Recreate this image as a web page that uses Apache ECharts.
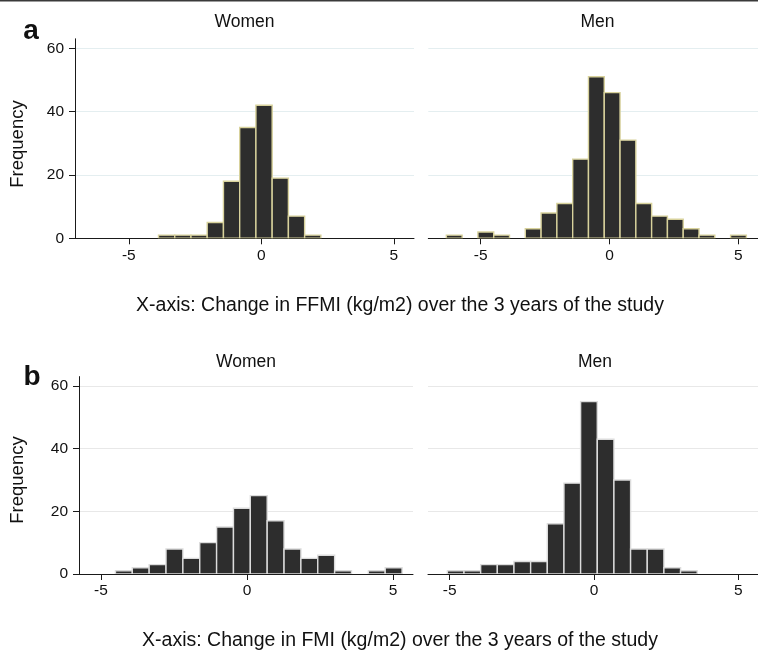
<!DOCTYPE html>
<html>
<head>
<meta charset="utf-8">
<script src="https://cdn.jsdelivr.net/npm/echarts@6/dist/echarts.min.js"></script>
<style>
html,body{margin:0;padding:0;background:#fff;}
#chart{width:758px;height:651px;}
</style>
</head>
<body>
<div id="chart"></div>
<script>
// ---- Data ----
const panelTitles = ["Women", "Men"];
const yTicks = [0, 20, 40, 60];
const xTicks = [-5, 0, 5];

// Panel a: change in FFMI, histogram bins
const ffmiBinStart = -6.33;
const ffmiBinWidth = 0.6126;
const ffmiWomen = [0, 0, 0, 0, 1, 1, 1, 5, 18, 35, 42, 19, 7, 1];
const ffmiMen = [1, 0, 2, 1, 0, 3, 8, 11, 25, 51, 46, 31, 11, 7, 6, 3, 1, 0, 1];

// Panel b: change in FMI, histogram bins
const fmiBinStart = -5.08;
const fmiBinWidth = 0.577;
const fmiWomen = [0, 1, 2, 3, 8, 5, 10, 15, 21, 25, 17, 8, 5, 6, 1, 0, 1, 2];
const fmiMen = [1, 1, 3, 3, 4, 4, 16, 29, 55, 43, 30, 8, 8, 2, 1];

const titleA = "X-axis: Change in FFMI (kg/m2) over the 3 years of the study";
const titleB = "X-axis: Change in FMI (kg/m2) over the 3 years of the study";

// ---- Build ----
function toBins(start, width, counts) {
  const out = [];
  counts.forEach((c, i) => {
    if (c > 0) out.push([start + i * width, start + (i + 1) * width, c]);
  });
  return out;
}

const FONT = '"Liberation Sans", Arial, Helvetica, sans-serif';
const panels = [
  { left: 75, top: 38.8, width: 339, height: 199.5, xMin: -7.03, xMax: 5.76, data: toBins(ffmiBinStart, ffmiBinWidth, ffmiWomen), axis: true, edge: '#d8d29c', grid: '#e4eef0' },
  { left: 428.3, top: 38.8, width: 339, height: 199.5, xMin: -7.03, xMax: 5.76, data: toBins(ffmiBinStart, ffmiBinWidth, ffmiMen), axis: false, edge: '#d8d29c', grid: '#e4eef0' },
  { left: 79, top: 376.6, width: 334, height: 197.4, xMin: -5.75, xMax: 5.68, data: toBins(fmiBinStart, fmiBinWidth, fmiWomen), axis: true, edge: '#dcdcdc', grid: '#e8e8e8' },
  { left: 428, top: 376.6, width: 334, height: 197.4, xMin: -5.75, xMax: 5.68, data: toBins(fmiBinStart, fmiBinWidth, fmiMen), axis: false, edge: '#dcdcdc', grid: '#e8e8e8' }
];

const grid = [], xAxis = [], yAxis = [], series = [];
panels.forEach((p, i) => {
  grid.push({ left: p.left, top: p.top, width: p.width, height: p.height, containLabel: false });
  xAxis.push({
    type: 'value', gridIndex: i, min: p.xMin, max: p.xMax,
    axisLine: { show: true, onZero: false, lineStyle: { color: '#1a1a1a', width: 1 } },
    axisTick: { show: true, length: 6, customValues: xTicks, lineStyle: { color: '#1a1a1a' } },
    axisLabel: { show: true, customValues: xTicks, margin: 9, color: '#111', fontSize: 15.5, fontFamily: FONT },
    splitLine: { show: false }
  });
  yAxis.push({
    type: 'value', gridIndex: i, min: 0, max: 63,
    axisLine: { show: p.axis, onZero: false, lineStyle: { color: '#1a1a1a', width: 1 } },
    axisTick: { show: p.axis, length: 6, customValues: yTicks, lineStyle: { color: '#1a1a1a' } },
    axisLabel: { show: p.axis, customValues: yTicks, margin: 11, color: '#111', fontSize: 15.5, fontFamily: FONT },
    splitLine: { show: true, lineStyle: { color: p.grid, width: 1 } },
    z: 0
  });
  series.push({
    type: 'custom', xAxisIndex: i, yAxisIndex: i,
    encode: { x: [0, 1], y: 2 },
    data: p.data,
    clip: true,
    renderItem: function (params, api) {
      const a = api.coord([api.value(0), 0]);
      const b = api.coord([api.value(1), api.value(2)]);
      return {
        type: 'rect',
        shape: { x: a[0], y: b[1], width: b[0] - a[0], height: a[1] - b[1] },
        style: { fill: '#2d2d2d', stroke: p.edge, lineWidth: 1.4 }
      };
    },
    z: 2
  });
});

function txt(x, y, text, size, weight, extra) {
  return Object.assign({
    type: 'text', x: x, y: y,
    style: { text: text, fontSize: size, fontWeight: weight || 'normal', fontFamily: FONT, fill: '#111',
      textAlign: 'center', textVerticalAlign: 'middle' }
  }, extra || {});
}

const graphic = [
  { type: 'rect', shape: { x: 0, y: 0, width: 758, height: 1.5 }, style: { fill: '#3a3a3a' } },
  txt(31, 31, 'a', 28, 'bold'),
  txt(32, 377, 'b', 28, 'bold'),
  txt(244.5, 22, panelTitles[0], 17.5),
  txt(597.5, 22, panelTitles[1], 17.5),
  txt(246, 362, panelTitles[0], 17.5),
  txt(595, 362, panelTitles[1], 17.5),
  txt(18, 144, 'Frequency', 18.5, 'normal', { rotation: Math.PI / 2 }),
  txt(18, 480, 'Frequency', 18.5, 'normal', { rotation: Math.PI / 2 }),
  txt(400, 306, titleA, 19.5),
  txt(400, 641, titleB, 19.5)
];

const chart = echarts.init(document.getElementById('chart'), null, { renderer: 'canvas' });
chart.setOption({
  animation: false,
  backgroundColor: '#ffffff',
  grid: grid, xAxis: xAxis, yAxis: yAxis, series: series, graphic: graphic
});
</script>
</body>
</html>
